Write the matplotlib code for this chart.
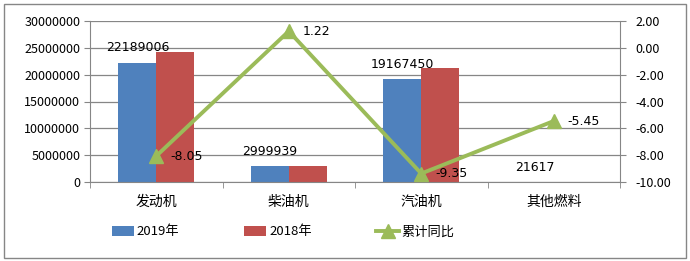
import matplotlib
matplotlib.use('Agg')
import matplotlib.pyplot as plt
from matplotlib.patches import Rectangle
from matplotlib.ticker import FormatStrFormatter

plt.rcParams['font.family'] = ['Noto Sans CJK SC', 'DejaVu Sans']

# 数据
categories = ['发动机', '柴油机', '汽油机', '其他燃料']
values_2019 = [22189006, 2999939, 19167450, 21617]
values_2018 = [24150000, 2960000, 21200000, 22800]
yoy = [-8.05, 1.22, -9.35, -5.45]

BLUE = '#4F81BD'
RED = '#C0504D'
GREEN = '#9BBB59'
GRID = '#868686'

fig = plt.figure(figsize=(6.9, 2.61), dpi=100)
ax = fig.add_axes([90 / 690, 1 - 182.3 / 261, 530 / 690, 161.6 / 261])
ax2 = ax.twinx()

x = list(range(len(categories)))
w = 0.285
bars19 = ax.bar([i - w / 2 for i in x], values_2019, w, color=BLUE, label='2019年')
bars18 = ax.bar([i + w / 2 for i in x], values_2018, w, color=RED, label='2018年')

for i, v in enumerate(values_2019):
    ax.annotate(str(v), (i - w / 2, v), xytext=(0, 6), textcoords='offset points',
                ha='center', va='bottom', fontsize=9, family='DejaVu Sans')

ax.set_xlim(-0.5, len(categories) - 0.5)
ax.set_ylim(0, 30000000)
ax.set_yticks(range(0, 30000001, 5000000))
ax.yaxis.set_major_formatter(FormatStrFormatter('%d'))
ax.set_axisbelow(True)
ax.grid(axis='y', color=GRID, linewidth=0.9)

ax.set_xticks(x)
ax.set_xticklabels(categories, fontsize=10)
ax.set_xticks([i - 0.5 for i in range(len(categories) + 1)], minor=True)
ax.tick_params(axis='x', which='major', length=0, pad=9)
ax.tick_params(axis='x', which='minor', length=4, color=GRID, direction='out')
ax.tick_params(axis='y', length=4, color=GRID, pad=3, labelsize=9)

line, = ax2.plot(x, yoy, color=GREEN, linewidth=2.8, marker='^', markersize=10, label='累计同比')
for i, v in enumerate(yoy):
    ax2.annotate(f'{v:.2f}', (i, v), xytext=(10, 0), textcoords='offset points',
                 ha='left', va='center', fontsize=9, family='DejaVu Sans')
ax2.set_ylim(-10, 2)
ax2.set_yticks(range(-10, 3, 2))
ax2.yaxis.set_major_formatter(FormatStrFormatter('%.2f'))
ax2.tick_params(axis='y', length=4, color=GRID, pad=7, labelsize=9)

for a in (ax, ax2):
    a.spines['top'].set_visible(False)
    for s in ('left', 'right', 'bottom'):
        a.spines[s].set_color(GRID)
ax2.spines['left'].set_visible(False)
ax2.spines['bottom'].set_visible(False)
ax.spines['right'].set_visible(False)

leg = fig.legend(handles=[bars19, bars18, line], loc='center left',
                 bbox_to_anchor=(105 / 690, 1 - 232 / 261), ncol=3, frameon=False,
                 fontsize=9.5, borderpad=0, handlelength=1.7, handletextpad=0.2,
                 columnspacing=4.9)

# 外框
fig.patches.append(Rectangle((4 / 690, 3 / 261), 682 / 690, 254 / 261, transform=fig.transFigure,
                             fill=False, edgecolor=GRID, linewidth=1))

fig.savefig('out.png', dpi=100)
